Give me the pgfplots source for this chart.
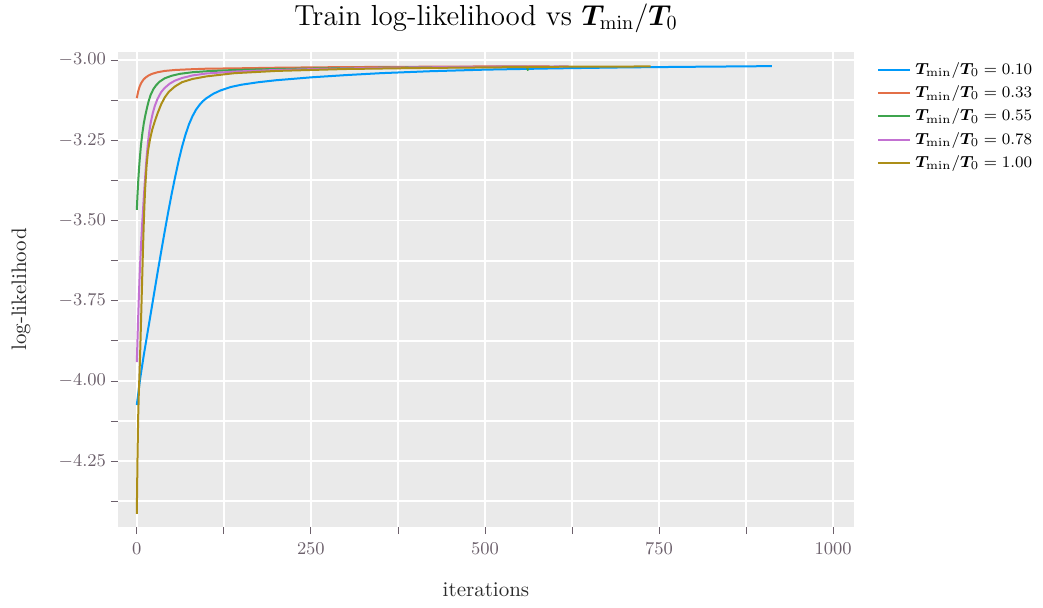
\documentclass[border=0pt]{standalone}
\usepackage{pgfplots}
\pgfplotsset{compat=1.18}
\usepackage{bm}

\definecolor{panelbg}{HTML}{EAEAEA}
\definecolor{ticktext}{HTML}{6C606B}
\definecolor{labeltext}{HTML}{2A2A2A}
\definecolor{sA}{HTML}{009AFA}
\definecolor{sB}{HTML}{E36F47}
\definecolor{sC}{HTML}{3EA44E}
\definecolor{sD}{HTML}{C371D2}
\definecolor{sE}{HTML}{AC8E18}

\newcommand{\ratio}{\bm{T}_{\min}/\bm{T}_0}

\begin{document}
\begin{tikzpicture}
\path[use as bounding box] (-59pt,-40pt) rectangle (462.5pt,263.5pt);
\begin{axis}[
  at={(0,0)}, anchor=south west,
  scale only axis, width=368pt, height=237.5pt,
  xmin=-27, xmax=1030, ymin=-4.455, ymax=-2.975,
  axis background/.style={fill=panelbg},
  axis line style={draw=none},
  xtick={0,250,500,750,1000},
  minor xtick={125,375,625,875},
  ytick={-4.25,-4,-3.75,-3.5,-3.25,-3},
  minor ytick={-4.375,-4.125,-3.875,-3.625,-3.375,-3.125},
  xtick pos=bottom, ytick pos=left,
  grid=both,
  major grid style={white, line width=0.9pt},
  minor grid style={white, line width=0.9pt},
  tick align=outside,
  major tick length=3.5pt, minor tick length=3.5pt,
  every tick/.style={ticktext, line width=0.4pt},
  ticklabel style={font=\fontsize{8.8}{10}\selectfont, text=ticktext},
  yticklabel style={xshift=1pt, /pgf/number format/.cd, fixed, fixed zerofill, precision=2},
  xticklabel style={yshift=-1pt, /pgf/number format/.cd, fixed, precision=0, set thousands separator={}},
  xlabel={iterations}, ylabel={log-likelihood},
  label style={font=\fontsize{10.5}{12}\selectfont, text=labeltext},
  xlabel style={at={(rel axis cs:0.5,0)}, anchor=center, yshift=-31.5pt},
  ylabel style={at={(rel axis cs:0,0.5)}, anchor=center, yshift=48.5pt},
  title={Train log-likelihood vs $\ratio$},
  title style={at={(rel axis cs:0.5,1)}, anchor=center, yshift=11pt,
    font=\fontsize{14.5}{17}\selectfont},
  legend style={at={(rel axis cs:1,1)}, anchor=north west, xshift=11.5pt, yshift=-3pt,
    draw=none, fill=none, inner sep=0pt, row sep=0.1pt,
    font=\fontsize{8.3}{10}\selectfont},
  legend cell align=left,
  legend image code/.code={\draw[#1] (0pt,0pt) -- (16pt,0pt);},
  every axis plot/.append style={line width=1pt, line join=round},
]

% T_min/T_0 = 0.10
\addplot[sA] coordinates {
 (0,-4.075) (5,-3.99) (10,-3.92) (15,-3.855) (20,-3.79) (25,-3.725)
 (30,-3.66) (35,-3.597) (40,-3.535) (45,-3.475) (50,-3.418) (55,-3.365)
 (60,-3.315) (65,-3.270) (70,-3.232) (75,-3.200) (80,-3.175) (85,-3.155)
 (90,-3.140) (95,-3.128) (100,-3.119) (110,-3.105) (120,-3.095)
 (135,-3.084) (150,-3.077) (175,-3.069) (200,-3.063) (250,-3.054)
 (300,-3.047) (350,-3.041) (420,-3.035) (500,-3.030) (600,-3.026)
 (700,-3.023) (800,-3.021) (912,-3.019)
};
\addlegendentry{$\ratio = 0.10$}

% T_min/T_0 = 0.33
\addplot[sB] coordinates {
 (0,-3.119) (1,-3.108) (2,-3.098) (3,-3.090) (4,-3.083) (6,-3.073)
 (8,-3.066) (10,-3.060) (13,-3.054) (17,-3.048) (22,-3.043) (30,-3.038)
 (40,-3.034) (55,-3.031) (75,-3.029) (100,-3.027) (140,-3.026)
 (200,-3.024) (300,-3.022) (400,-3.021) (500,-3.020) (593,-3.020)
};
\addlegendentry{$\ratio = 0.33$}

% T_min/T_0 = 0.55
\addplot[sC] coordinates {
 (0,-3.467) (1,-3.42) (2,-3.38) (3,-3.345) (4,-3.315) (6,-3.265)
 (8,-3.228) (10,-3.198) (12,-3.175) (14,-3.155) (17,-3.128) (20,-3.108)
 (24,-3.090) (28,-3.078) (33,-3.067) (40,-3.057) (50,-3.049) (62,-3.043)
 (80,-3.038) (100,-3.035) (140,-3.031) (200,-3.028) (300,-3.025)
 (400,-3.023) (500,-3.022) (560,-3.021) (562,-3.033)
};
\addlegendentry{$\ratio = 0.55$}

% T_min/T_0 = 0.78
\addplot[sD] coordinates {
 (0,-3.941) (1,-3.87) (2,-3.80) (3,-3.735) (4,-3.675) (5,-3.625)
 (6,-3.58) (7,-3.54) (8,-3.50) (10,-3.43) (12,-3.365) (14,-3.305)
 (16,-3.258) (18,-3.222) (20,-3.195) (23,-3.165) (26,-3.142) (30,-3.120)
 (35,-3.100) (40,-3.087) (47,-3.074) (55,-3.064) (65,-3.056) (80,-3.048)
 (100,-3.042) (140,-3.036) (200,-3.031) (300,-3.026) (400,-3.023)
 (500,-3.021) (620,-3.020)
};
\addlegendentry{$\ratio = 0.78$}

% T_min/T_0 = 1.00
\addplot[sE] coordinates {
 (0,-4.414) (1,-4.24) (2,-4.11) (3,-4.03) (4,-3.97) (5,-3.90) (6,-3.82)
 (7,-3.74) (8,-3.66) (9,-3.58) (10,-3.51) (11,-3.45) (12,-3.40)
 (14,-3.33) (16,-3.285) (18.7,-3.25) (22,-3.218) (26,-3.190) (30,-3.165)
 (35,-3.138) (40,-3.117) (46,-3.099) (55,-3.082) (65,-3.069) (80,-3.059)
 (100,-3.051) (120,-3.046) (140,-3.041) (200,-3.034) (300,-3.028)
 (400,-3.025) (500,-3.023) (600,-3.021) (738,-3.020)
};
\addlegendentry{$\ratio = 1.00$}

\end{axis}
\end{tikzpicture}
\end{document}
